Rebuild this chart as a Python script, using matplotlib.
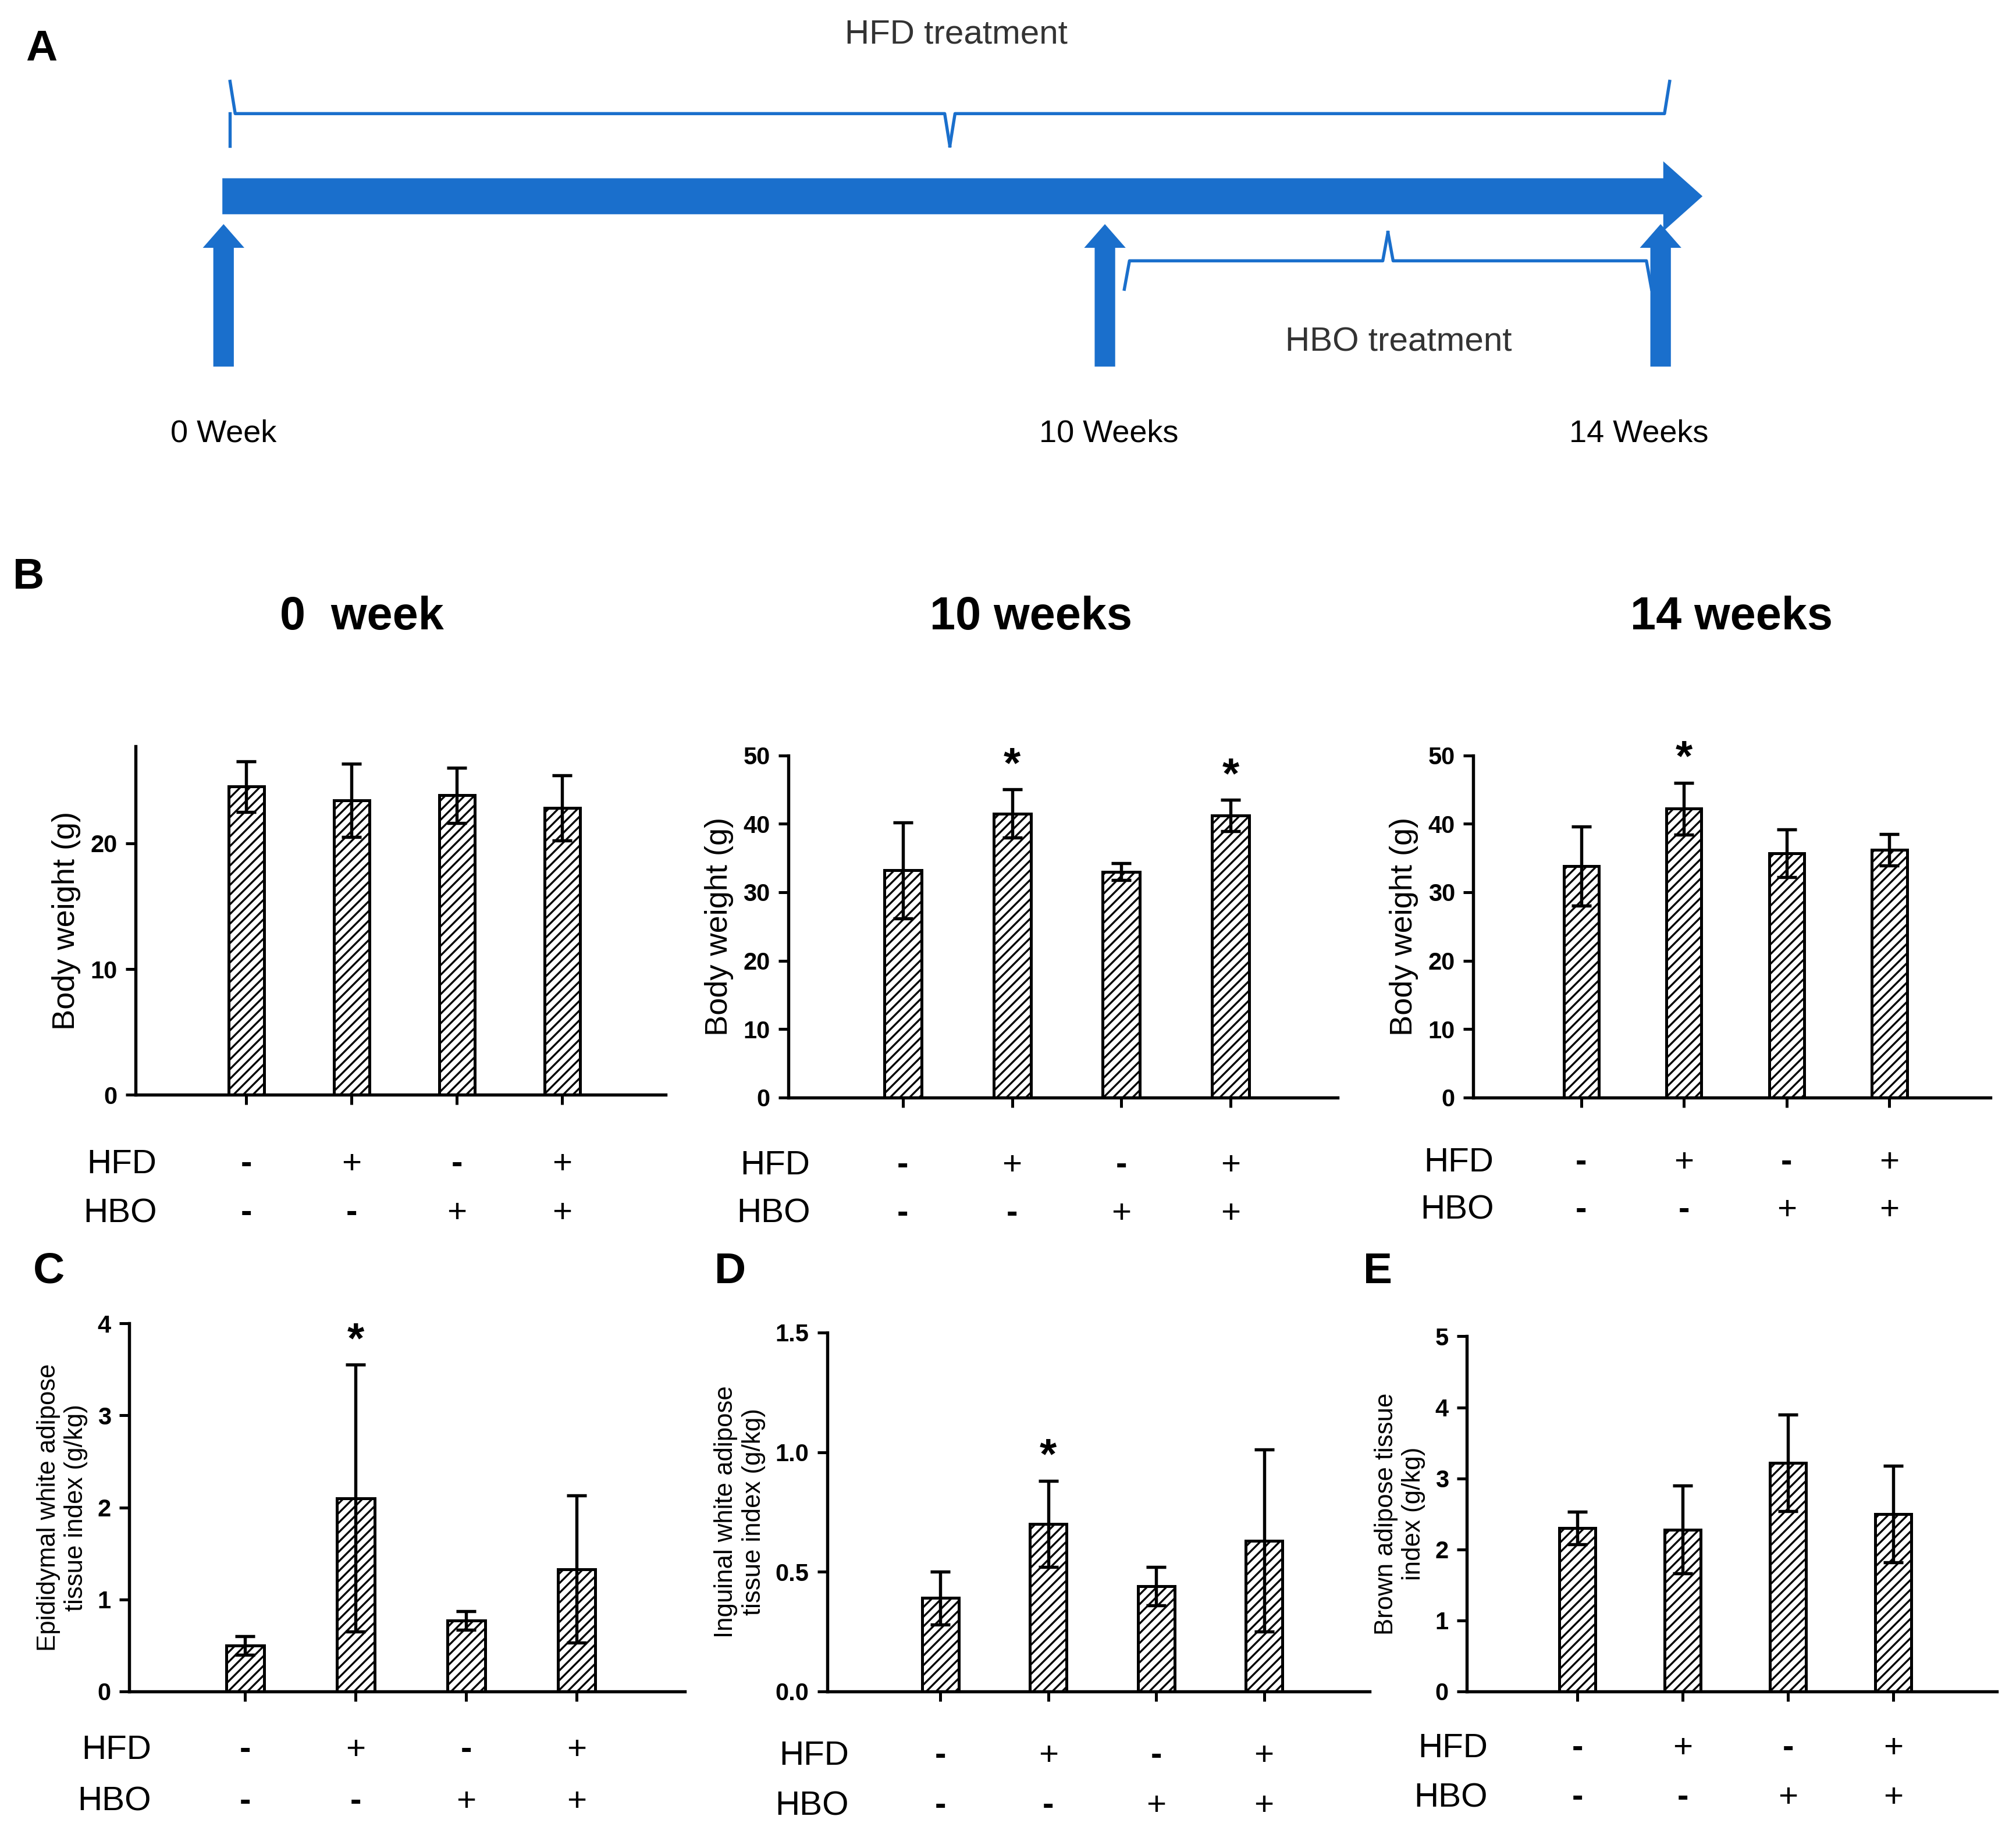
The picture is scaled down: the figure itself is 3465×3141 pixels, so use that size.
import matplotlib.pyplot as plt
from matplotlib.patches import FancyArrow
import numpy as np

W, H = 1560, 1415

hfd = ['-', '+', '-', '+']
hbo = ['-', '-', '+', '+']

b0_mean = [24.5, 23.4, 23.8, 22.8]
b0_err = [2.0, 2.9, 2.2, 2.6]
b10_mean = [33.2, 41.5, 33.0, 41.2]
b10_err = [7.0, 3.5, 1.2, 2.3]
b14_mean = [33.8, 42.2, 35.7, 36.2]
b14_err = [5.8, 3.8, 3.5, 2.3]
c_mean = [0.50, 2.10, 0.77, 1.33]
c_err = [0.10, 1.45, 0.10, 0.80]
d_mean = [0.39, 0.70, 0.44, 0.63]
d_err = [0.11, 0.18, 0.08, 0.38]
e_mean = [2.30, 2.28, 3.22, 2.50]
e_err = [0.23, 0.62, 0.68, 0.68]

plt.rcParams['font.family'] = 'Liberation Sans'
plt.rcParams['hatch.linewidth'] = 0.8

fig = plt.figure(figsize=(11.55, 10.47), dpi=300)


def fx(x):
    return x / W


def fy(y):
    return 1 - y / H


def make_axes(x0, x1, y0, y1):
    return fig.add_axes([fx(x0), fy(y1), fx(x1 - x0), (y1 - y0) / H])


def bar_panel(ax, means, errs, ylim, yticks, ylabel, stars, ylabsize=13,
              row_y=(-0.2, -0.34), fmt=None):
    x = np.arange(4)
    ax.bar(x, means, width=0.34, color='white', edgecolor='black',
           hatch='//////', linewidth=1.2)
    ax.errorbar(x, means, yerr=errs, fmt='none', ecolor='black',
                elinewidth=1.3, capsize=4, capthick=1.3)
    ax.set_xlim(-1.05, 3.98)
    ax.set_ylim(*ylim)
    ax.set_yticks(yticks)
    if fmt:
        ax.set_yticklabels([fmt % t for t in yticks])
    ax.set_xticks(x)
    ax.set_xticklabels([])
    ax.tick_params(direction='out', length=4, width=1.2, labelsize=10)
    for lab in ax.get_yticklabels():
        lab.set_fontweight('bold')
    for s in ['top', 'right']:
        ax.spines[s].set_visible(False)
    for s in ['left', 'bottom']:
        ax.spines[s].set_linewidth(1.3)
    ax.set_ylabel(ylabel, fontsize=ylabsize)
    for i in stars:
        ax.text(i, means[i] + errs[i] + ylim[1] * 0.01, '*', ha='center',
                va='bottom', fontsize=18, fontweight='bold')
    for name, vals, yy in [('HFD', hfd, row_y[0]), ('HBO', hbo, row_y[1])]:
        ax.annotate(name, xy=(-0.85, yy), xycoords=('data', 'axes fraction'),
                    ha='right', va='center', fontsize=14)
        for i, v in enumerate(vals):
            ax.annotate(v, xy=(i, yy), xycoords=('data', 'axes fraction'),
                        ha='center', va='center', fontsize=14,
                        fontweight='bold' if v == '-' else 'normal')


# Panel A: timeline
blue = '#1a6fcc'
tl = fig.add_axes([0, 0, 1, 1])
tl.set_xlim(0, W)
tl.set_ylim(H, 0)
tl.axis('off')
tl.add_patch(FancyArrow(173, 152, 1115, 0, width=26, head_width=50,
                        head_length=28, color=blue, length_includes_head=False))
for xa in [173, 855, 1285]:
    tl.add_patch(FancyArrow(xa, 283, 0, -92, width=14, head_width=28,
                            head_length=16, color=blue))


def brace(x0, x1, y, h, up=True):
    s = -1 if up else 1
    xm = (x0 + x1) / 2
    tl.plot([x0, x0 + 4, xm - 4, xm], [y - s * h, y, y, y + s * h],
            color=blue, lw=1.3)
    tl.plot([x1, x1 - 4, xm + 4, xm], [y - s * h, y, y, y + s * h],
            color=blue, lw=1.3)


brace(178, 1292, 88, 25, up=False)
tl.plot([178, 178], [88, 113], color=blue, lw=1.3)
brace(870, 1278, 202, 22, up=True)
tl.text(740, 27, 'HFD treatment', ha='center', va='center', fontsize=14,
        color='#333333')
tl.text(1082, 265, 'HBO treatment', ha='center', va='center', fontsize=14,
        color='#333333')
for xa, t in [(173, '0 Week'), (858, '10 Weeks'), (1268, '14 Weeks')]:
    tl.text(xa, 336, t, ha='center', va='center', fontsize=13)
for xa, ya, t in [(32, 38, 'A'), (22, 447, 'B'), (38, 985, 'C'),
                  (565, 985, 'D'), (1066, 985, 'E')]:
    tl.text(xa, ya, t, ha='center', va='center', fontsize=18,
            fontweight='bold')
for xa, t in [(280, '0  week'), (798, '10 weeks'), (1340, '14 weeks')]:
    tl.text(xa, 478, t, ha='center', va='center', fontsize=19,
            fontweight='bold')

ax = make_axes(105, 515, 578, 848)
bar_panel(ax, b0_mean, b0_err, (0, 27.7), [0, 10, 20], 'Body weight (g)', [])
ax = make_axes(610, 1035, 585, 850)
bar_panel(ax, b10_mean, b10_err, (0, 50), [0, 10, 20, 30, 40, 50],
          'Body weight (g)', [1, 3])
ax = make_axes(1140, 1540, 585, 850)
bar_panel(ax, b14_mean, b14_err, (0, 50), [0, 10, 20, 30, 40, 50],
          'Body weight (g)', [1], row_y=(-0.19, -0.33))

ax = make_axes(100, 530, 1025, 1310)
bar_panel(ax, c_mean, c_err, (0, 4), [0, 1, 2, 3, 4],
          'Epididymal white adipose\ntissue index (g/kg)', [1], ylabsize=10.5,
          row_y=(-0.16, -0.3))
ax = make_axes(640, 1060, 1032, 1310)
bar_panel(ax, d_mean, d_err, (0, 1.5), [0, 0.5, 1.0, 1.5],
          'Inguinal white adipose\ntissue index (g/kg)', [1], ylabsize=10.5,
          row_y=(-0.18, -0.32), fmt='%.1f')
ax = make_axes(1135, 1545, 1035, 1310)
bar_panel(ax, e_mean, e_err, (0, 5), [0, 1, 2, 3, 4, 5],
          'Brown adipose tissue\nindex (g/kg)', [], ylabsize=10.5,
          row_y=(-0.16, -0.3))

fig.savefig('out.png', dpi=300)
